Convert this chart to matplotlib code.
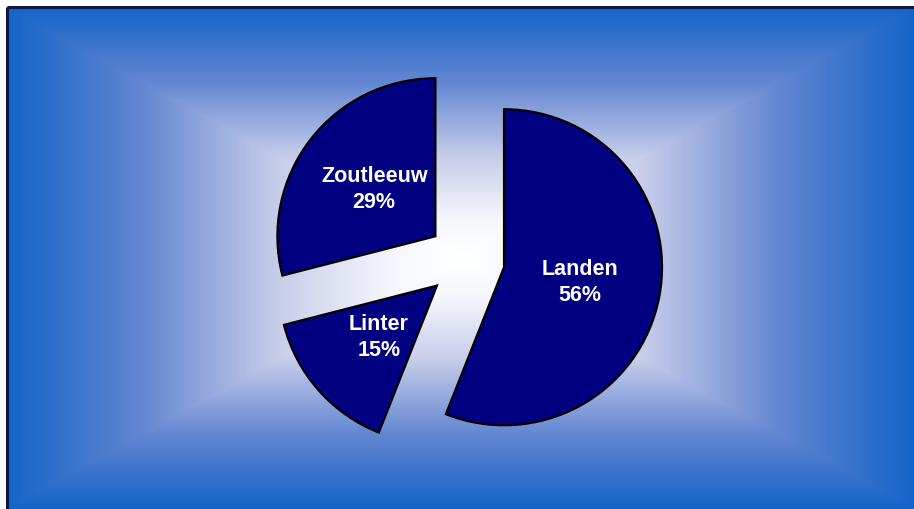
import numpy as np
import matplotlib
matplotlib.use("Agg")
import matplotlib.pyplot as plt
from matplotlib.colors import LinearSegmentedColormap

# Data
categories = ["Landen", "Linter", "Zoutleeuw"]
values = [56, 15, 29]

W, H, DPI = 914, 510, 100
fig = plt.figure(figsize=(W / DPI, H / DPI), dpi=DPI)
fig.patch.set_facecolor("white")

# Background rectangular gradient panel
left_px, top_px = 7, 8
bg = fig.add_axes([left_px / W, 0, (W - left_px) / W, (H - top_px) / H])
bg.set_axis_off()
pw, ph = W - left_px, H - top_px
u = np.abs(np.linspace(-1, 1, pw))[None, :]
v = np.abs(np.linspace(-1, 1, ph))[:, None]
t = np.maximum(u, v)
cmap = LinearSegmentedColormap.from_list(
    "bg",
    [(0.0, (1, 1, 1)),
     (0.15, (0.96, 0.97, 0.99)),
     (0.40, (200 / 255, 206 / 255, 234 / 255)),
     (0.70, (100 / 255, 135 / 255, 210 / 255)),
     (1.0, (20 / 255, 100 / 255, 200 / 255))])
bg.imshow(t, cmap=cmap, aspect="auto", extent=(0, 1, 0, 1), vmin=0, vmax=1,
          interpolation="bilinear")
bg.set_xlim(0, 1)
bg.set_ylim(0, 1)
bg.plot([0, 0], [0, 1], color="#0a1a40", lw=2.2, solid_capstyle="butt", clip_on=False)
bg.plot([0, 1], [1, 1], color="#0a1a40", lw=2.2, solid_capstyle="butt", clip_on=False)

# Pie axes
R = 158.0
cx, cy = 466.0, 261.0
ax = fig.add_axes([0, 0, 1, 1])
ax.set_facecolor("none")
labels = [f"{c}\n{v}%" for c, v in zip(categories, values)]
wedges, texts = ax.pie(
    values, labels=labels, startangle=90, counterclock=False,
    explode=[0.245] * len(values), colors=["#000080"] * len(values),
    labeldistance=0.49,
    wedgeprops=dict(edgecolor="black", linewidth=1.6),
    textprops=dict(color="white", fontsize=15.5, fontweight="bold",
                   family="Liberation Sans"))
for tx in texts:
    tx.set_ha("center")
    tx.set_va("center")
    tx.set_linespacing(1.3)
ax.set_aspect("auto")
ax.set_xlim(-cx / R, (W - cx) / R)
ax.set_ylim(-(H - cy) / R, cy / R)
ax.set_axis_off()

fig.savefig("out.png", dpi=DPI)
